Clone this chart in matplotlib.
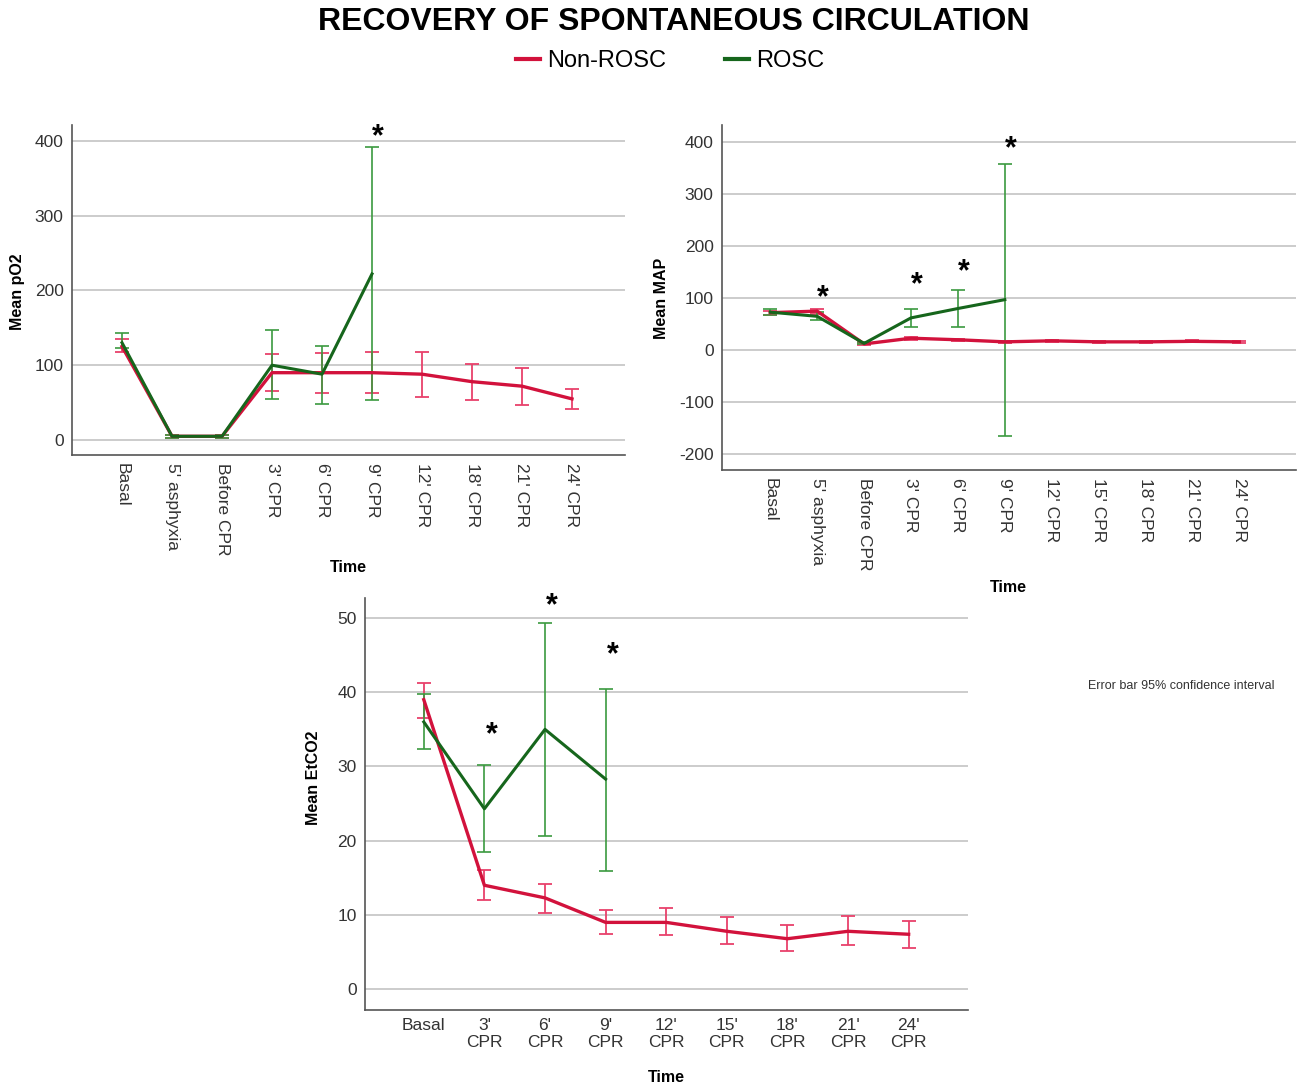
import matplotlib.pyplot as plt

plt.rcParams['font.family'] = ['Liberation Sans', 'DejaVu Sans']
plt.rcParams['axes.unicode_minus'] = False

RED = '#d2123c'
RED_ERR = '#e8416b'
GREEN = '#16661c'
GREEN_ERR = '#3b9a3f'

# pO2 panel
po2_labels = ["Basal", "5' asphyxia", "Before CPR", "3' CPR", "6' CPR", "9' CPR",
              "12' CPR", "18' CPR", "21' CPR", "24' CPR"]
po2_non = [125, 5, 5, 90, 90, 90, 88, 78, 72, 55]
po2_non_lo = [118, 3, 3, 65, 63, 63, 58, 53, 47, 42]
po2_non_hi = [135, 7, 7, 115, 116, 117, 118, 102, 96, 68]
po2_rosc = [130, 5, 5, 100, 88, 222]
po2_rosc_lo = [123, 3, 3, 55, 48, 53]
po2_rosc_hi = [143, 7, 7, 147, 126, 391]
po2_star_idx = [5]
po2_star_y = [405]

# MAP panel
map_labels = ["Basal", "5' asphyxia", "Before CPR", "3' CPR", "6' CPR", "9' CPR",
              "12' CPR", "15' CPR", "18' CPR", "21' CPR", "24' CPR"]
map_non = [72, 75, 12, 23, 20, 16, 18, 16, 16, 17, 16]
map_non_lo = [68, 70, 10, 20, 18, 14, 16, 14, 14, 15, 14]
map_non_hi = [76, 80, 14, 26, 22, 18, 20, 18, 18, 19, 18]
map_rosc = [73, 65, 13, 62, 80, 97]
map_rosc_lo = [67, 58, 11, 45, 45, -165]
map_rosc_hi = [79, 74, 15, 80, 115, 357]
map_star_idx = [1, 3, 4, 5]
map_star_y = [100, 125, 150, 385]

# EtCO2 panel
etco2_labels = ["Basal", "3'\nCPR", "6'\nCPR", "9'\nCPR", "12'\nCPR", "15'\nCPR",
                "18'\nCPR", "21'\nCPR", "24'\nCPR"]
etco2_non = [39, 14, 12.3, 9, 9, 7.8, 6.8, 7.8, 7.4]
etco2_non_lo = [36.5, 12, 10.3, 7.4, 7.3, 6.1, 5.1, 5.9, 5.6]
etco2_non_hi = [41.3, 16, 14.2, 10.7, 11, 9.7, 8.6, 9.8, 9.2]
etco2_rosc = [36, 24.3, 35, 28.3]
etco2_rosc_lo = [32.3, 18.5, 20.7, 15.9]
etco2_rosc_hi = [39.8, 30.2, 49.3, 40.5]
etco2_star_idx = [1, 2, 3]
etco2_star_y = [34.2, 51.6, 45.0]


def draw_panel(ax, labels, non, non_lo, non_hi, rosc, rosc_lo, rosc_hi,
               star_idx, star_y, yticks, ylim, xlim, rotate, star_size=22):
    xs = list(range(len(labels)))
    # error bars first
    ax.errorbar(xs[:len(non)], non,
                yerr=[[m - l for m, l in zip(non, non_lo)], [h - m for m, h in zip(non, non_hi)]],
                fmt='none', ecolor=RED_ERR, elinewidth=1.3, capsize=5, capthick=1.3, zorder=3)
    ax.errorbar(xs[:len(rosc)], rosc,
                yerr=[[m - l for m, l in zip(rosc, rosc_lo)], [h - m for m, h in zip(rosc, rosc_hi)]],
                fmt='none', ecolor=GREEN_ERR, elinewidth=1.2, capsize=5, capthick=1.2, zorder=3)
    ax.plot(xs[:len(non)], non, color=RED, lw=2.4, zorder=4)
    ax.plot(xs[:len(rosc)], rosc, color=GREEN, lw=2.2, zorder=5)
    for i, y in zip(star_idx, star_y):
        ax.text(i + 0.12, y, '*', fontsize=star_size, fontweight='bold', ha='center',
                va='center', color='black', zorder=6)
    ax.set_xlim(*xlim)
    ax.set_ylim(*ylim)
    ax.set_yticks(yticks)
    ax.set_xticks(xs)
    if rotate:
        ax.set_xticklabels(labels, rotation=270, fontsize=12.5, color='#333333')
    else:
        ax.set_xticklabels(labels, fontsize=12.5, color='#333333', linespacing=1.15)
    ax.tick_params(axis='both', length=0, pad=6)
    ax.tick_params(axis='y', labelsize=12.5, labelcolor='#333333')
    ax.grid(axis='y', color='#cccccc', lw=1.4)
    ax.set_axisbelow(True)
    for s in ['top', 'right']:
        ax.spines[s].set_visible(False)
    for s in ['left', 'bottom']:
        ax.spines[s].set_color('#555555')
        ax.spines[s].set_linewidth(1.2)


fig = plt.figure(figsize=(12.98, 10.88), dpi=100)

ax1 = fig.add_axes([0.0555, 0.5818, 0.426, 0.3033])
draw_panel(ax1, po2_labels, po2_non, po2_non_lo, po2_non_hi,
           po2_rosc, po2_rosc_lo, po2_rosc_hi, po2_star_idx, po2_star_y,
           [0, 100, 200, 300, 400], (-20, 421), (-1.0, 10.06), True)

ax2 = fig.add_axes([0.5562, 0.568, 0.442, 0.317])
draw_panel(ax2, map_labels, map_non, map_non_lo, map_non_hi,
           map_rosc, map_rosc_lo, map_rosc_hi, map_star_idx, map_star_y,
           [-200, -100, 0, 100, 200, 300, 400], (-230, 432), (-1.03, 11.2), True)

ax3 = fig.add_axes([0.2812, 0.0717, 0.4646, 0.3787])
draw_panel(ax3, etco2_labels, etco2_non, etco2_non_lo, etco2_non_hi,
           etco2_rosc, etco2_rosc_lo, etco2_rosc_hi, etco2_star_idx, etco2_star_y,
           [0, 10, 20, 30, 40, 50], (-2.8, 52.7), (-0.97, 8.98), False)

# axis titles
lab = dict(fontsize=11.5, fontweight='bold', color='black')
fig.text(18 / 1298, 1 - 292 / 1088, 'Mean pO2', rotation=90, ha='center', va='center', **lab)
fig.text(662 / 1298, 1 - 298 / 1088, 'Mean MAP', rotation=90, ha='center', va='center', **lab)
fig.text(314 / 1298, 1 - 778 / 1088, 'Mean EtCO2', rotation=90, ha='center', va='center', **lab)
fig.text(348 / 1298, 1 - 568 / 1088, 'Time', ha='center', va='center', **lab)
fig.text(1008 / 1298, 1 - 588 / 1088, 'Time', ha='center', va='center', **lab)
fig.text(666 / 1298, 1 - 1077 / 1088, 'Time', ha='center', va='center', **lab)

fig.text(1181 / 1298, 1 - 686 / 1088, 'Error bar 95% confidence interval',
         ha='center', va='center', fontsize=9, color='#333333')

# title and legend
fig.text(674 / 1298, 1 - 22 / 1088, 'RECOVERY OF SPONTANEOUS CIRCULATION',
         ha='center', va='center', fontsize=23, fontweight='bold', color='black')
fig.legend(handles=[plt.Line2D([], [], color=RED, lw=3),
                    plt.Line2D([], [], color=GREEN, lw=3)],
           labels=['Non-ROSC', 'ROSC'], loc='center', ncol=2,
           bbox_to_anchor=(670 / 1298, 1 - 61 / 1088), frameon=False,
           fontsize=17, handlelength=1.0, handletextpad=0.3, columnspacing=2.5)

fig.savefig('out.png', dpi=100)
